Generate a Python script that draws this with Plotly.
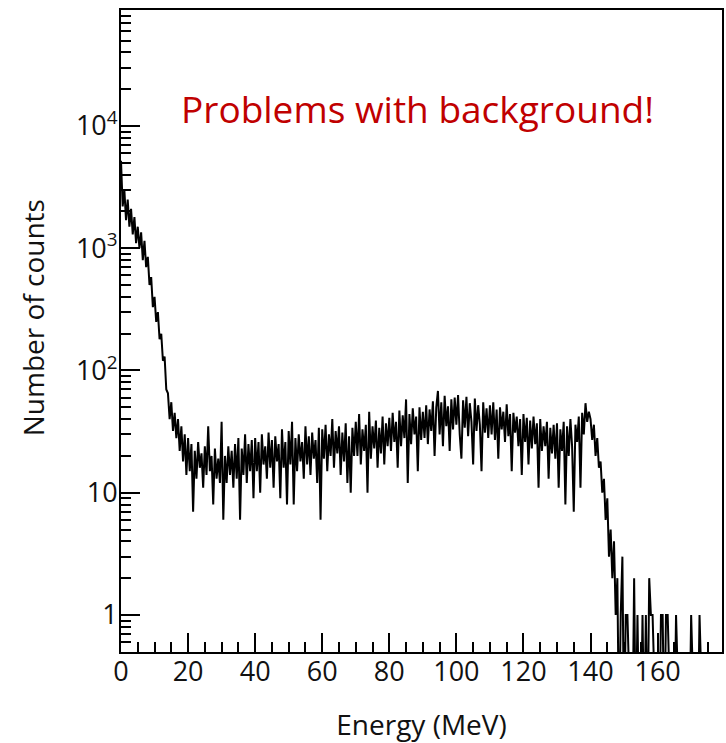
import numpy as np
import plotly.graph_objects as go

# Histogram counts, 0.5 MeV bins (segments of 10 MeV)
bin_width = 0.5
counts_000_010 = [5200, 2200, 3000, 1700, 2500, 1500, 2100, 1300, 1800, 1100, 1500, 1000, 1350, 800, 1150, 700, 850, 500, 580, 330]
counts_010_020 = [400, 250, 300, 180, 200, 120, 130, 70, 65, 40, 55, 32, 45, 28, 40, 22, 35, 18, 30, 14]
counts_020_030 = [28, 15, 25, 7, 22, 13, 26, 16, 21, 11, 24, 14, 35, 15, 20, 8, 23, 13, 19, 12]
counts_030_040 = [38, 6, 20, 12, 24, 14, 22, 11, 25, 13, 28, 6, 23, 14, 30, 12, 25, 15, 27, 9]
counts_040_050 = [28, 15, 26, 10, 30, 17, 24, 13, 31, 16, 27, 11, 29, 18, 25, 9, 33, 16, 26, 8]
counts_050_060 = [32, 17, 38, 8, 28, 15, 30, 18, 26, 13, 35, 17, 29, 14, 31, 19, 27, 12, 34, 6]
counts_060_070 = [33, 19, 36, 15, 30, 20, 40, 16, 32, 21, 35, 14, 31, 18, 37, 12, 29, 10, 34, 20]
counts_070_080 = [38, 20, 44, 17, 33, 22, 36, 10, 46, 19, 35, 23, 39, 16, 34, 21, 42, 17, 37, 24]
counts_080_090 = [41, 22, 45, 26, 38, 16, 47, 24, 43, 28, 58, 12, 44, 25, 49, 30, 42, 15, 50, 27]
counts_090_100 = [46, 28, 52, 25, 48, 32, 56, 20, 50, 68, 30, 55, 24, 62, 35, 51, 22, 58, 33, 60]
counts_100_110 = [36, 63, 30, 19, 57, 34, 61, 29, 54, 38, 17, 59, 32, 52, 36, 15, 55, 31, 49, 28]
counts_110_120 = [52, 30, 55, 27, 48, 19, 50, 33, 46, 26, 53, 29, 44, 15, 45, 31, 42, 24, 40, 14]
counts_120_130 = [44, 26, 41, 17, 39, 23, 42, 25, 37, 11, 40, 22, 35, 24, 38, 13, 34, 21, 36, 19]
counts_130_140 = [37, 11, 33, 22, 38, 8, 35, 20, 40, 24, 7, 36, 26, 42, 11, 45, 30, 54, 38, 46]
counts_140_150 = [40, 27, 36, 20, 28, 16, 18, 10, 13, 6, 9, 3, 5, 2, 4, 1, 2, 0, 1, 3]
counts_150_160 = [0, 1, 1, 0, 0, 0, 2, 0, 1, 0, 0, 1, 0, 1, 0, 2, 1, 1, 0, 0]
counts_160_170 = [0, 0, 1, 1, 0, 1, 1, 0, 0, 0, 0, 1, 0, 0, 0, 0, 0, 0, 0, 0]
counts_170_175 = [1, 0, 0, 0, 0, 1, 0, 0, 0, 0]

x_ticks = [0, 20, 40, 60, 80, 100, 120, 140, 160]
y_ticks = [1, 10, 100, 1000, 10000]
y_tick_labels = ["1", "10", "10<sup>2</sup>", "10<sup>3</sup>", "10<sup>4</sup>"]

counts = np.array(
    counts_000_010 + counts_010_020 + counts_020_030 + counts_030_040 + counts_040_050
    + counts_050_060 + counts_060_070 + counts_070_080 + counts_080_090 + counts_090_100
    + counts_100_110 + counts_110_120 + counts_120_130 + counts_130_140 + counts_140_150
    + counts_150_160 + counts_160_170 + counts_170_175, dtype=float)
energy = np.arange(len(counts)) * bin_width
# empty bins drawn down past the bottom of the log axis
plot_counts = np.where(counts > 0, counts, 0.1)

x_minor = [v for v in range(5, 180, 5) if v % 20 != 0]
y_minor = [m * 10.0 ** d for d in range(-1, 5) for m in range(2, 10) if 0.5 <= m * 10.0 ** d <= 9e4]

font = "Open Sans"
fig = go.Figure()
fig.add_trace(go.Scatter(x=energy, y=plot_counts, mode="lines",
                         line=dict(color="black", width=2.0), showlegend=False,
                         hoverinfo="skip"))

fig.update_layout(
    width=726, height=743,
    margin=dict(l=121, r=2, t=10, b=91),
    paper_bgcolor="white", plot_bgcolor="white",
    font=dict(family=font, color="#111111"),
    xaxis=dict(range=[0, 179.2], showline=True, linecolor="black", linewidth=2, mirror=True,
               ticks="inside", ticklen=19, tickwidth=1.5, tickcolor="black",
               tickvals=x_ticks, ticktext=[str(v) for v in x_ticks], ticklabelstandoff=-5,
               minor=dict(tickvals=x_minor, ticks="inside", ticklen=10, tickwidth=1.5, tickcolor="black"),
               showgrid=False, zeroline=False, tickfont=dict(size=27, family=font),
               title=dict(text="Energy (MeV)", font=dict(size=28, family=font), standoff=27)),
    yaxis=dict(type="log", range=[-0.303, 4.949], showline=True, linecolor="black", linewidth=2, mirror=True,
               ticks="inside", ticklen=19, tickwidth=1.5, tickcolor="black",
               tickvals=y_ticks, ticktext=y_tick_labels, ticklabelstandoff=-4,
               minor=dict(tickvals=y_minor, ticks="inside", ticklen=10, tickwidth=1.5, tickcolor="black"),
               showgrid=False, zeroline=False, tickfont=dict(size=27, family=font)),
)

# y-axis title placed where the reference has it (slightly above the plot centre)
fig.add_annotation(text="Number of counts", xref="paper", yref="paper",
                   x=(33 - 121) / 603, y=(652 - 318) / 642, xanchor="center", yanchor="middle",
                   textangle=-90, showarrow=False, font=dict(size=28, family=font, color="#111111"))

fig.add_annotation(text="Problems with background!", xref="paper", yref="paper",
                   x=0.097, y=0.847, xanchor="left", yanchor="middle", showarrow=False,
                   font=dict(size=37, color="#C00000", family=font))

fig.write_html("out.html")
